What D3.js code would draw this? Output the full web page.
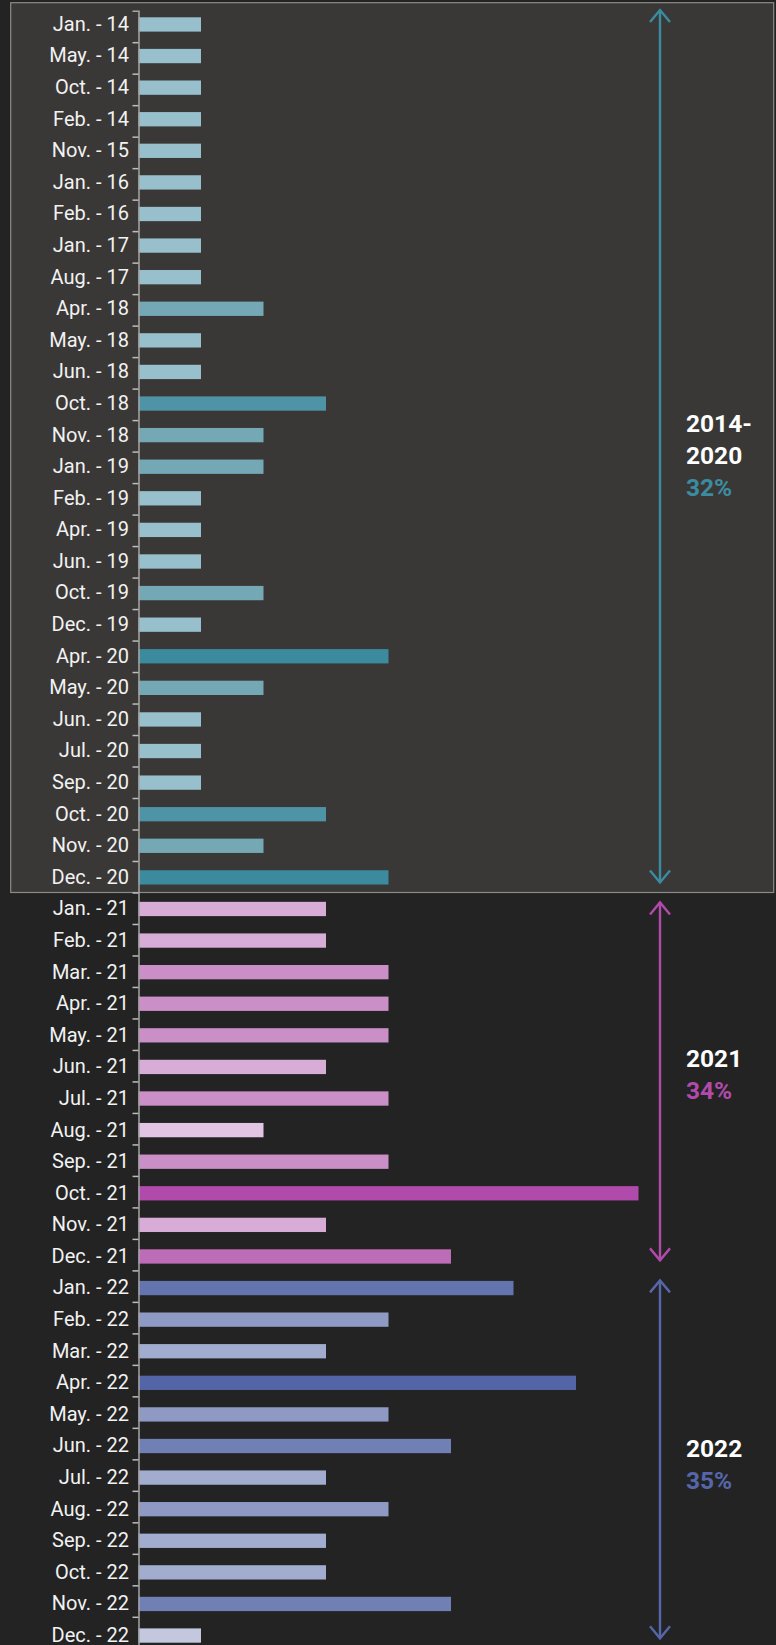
<!DOCTYPE html>
<html>
<head>
<meta charset="utf-8">
<script src="https://cdn.jsdelivr.net/npm/d3@7"></script>
<style>
  body { margin: 0; background: #232323; }
  svg { display: block; }
  .label { font-family: Roboto, "Noto Sans", sans-serif; font-size: 20px; fill: #f2f2f2; }
  .title { font-family: Roboto, "Noto Sans", sans-serif; font-size: 24.5px; font-weight: 700; }
</style>
</head>
<body>
<section></section>
<script>
// months shown on the axis, one bar each
var periods = [
  "Jan. - 14", "May. - 14", "Oct. - 14", "Feb. - 14", "Nov. - 15", "Jan. - 16", "Feb. - 16",
  "Jan. - 17", "Aug. - 17", "Apr. - 18", "May. - 18", "Jun. - 18", "Oct. - 18", "Nov. - 18",
  "Jan. - 19", "Feb. - 19", "Apr. - 19", "Jun. - 19", "Oct. - 19", "Dec. - 19", "Apr. - 20",
  "May. - 20", "Jun. - 20", "Jul. - 20", "Sep. - 20", "Oct. - 20", "Nov. - 20", "Dec. - 20",
  "Jan. - 21", "Feb. - 21", "Mar. - 21", "Apr. - 21", "May. - 21", "Jun. - 21",
  "Jul. - 21", "Aug. - 21", "Sep. - 21", "Oct. - 21", "Nov. - 21", "Dec. - 21",
  "Jan. - 22", "Feb. - 22", "Mar. - 22", "Apr. - 22", "May. - 22", "Jun. - 22",
  "Jul. - 22", "Aug. - 22", "Sep. - 22", "Oct. - 22", "Nov. - 22", "Dec. - 22"
];
var counts = [
  1, 1, 1, 1, 1, 1, 1, 1, 1, 2, 1, 1, 3, 2, 2, 1, 1, 1, 2, 1, 4, 2, 1, 1, 1, 3, 2, 4,
  3, 3, 4, 4, 4, 3, 4, 2, 4, 8, 3, 5,
  6, 4, 3, 7, 4, 5, 3, 4, 3, 3, 5, 1
];
// the three periods and how many months each covers
var groupTitles = [["2014-", "2020"], ["2021"], ["2022"]];
var groupShares = ["32%", "34%", "35%"];
var groupSizes = [28, 12, 12];

var width = 776, height = 1645;
var groupColor = ["#3b8ca0", "#b04aab", "#5566aa"];
var shades = [
  d3.scaleLinear().domain([1, 2, 3, 4]).range(["#97c0cc", "#74a8b5", "#4e93a6", "#3b8a9e"]),
  d3.scaleLinear().domain([2, 3, 4, 5, 8]).range(["#e2c5e2", "#d7acd6", "#cb8fc8", "#bd6cb8", "#b04aab"]),
  d3.scaleLinear().domain([1, 3, 4, 5, 6, 7]).range(["#c3c8de", "#a2acce", "#8e99c4", "#7080b5", "#6474ae", "#5465a7"])
];

// group index of every bar
var groupOf = [];
groupSizes.forEach(function(n, g) { for (var i = 0; i < n; i++) groupOf.push(g); });
var starts = [0, groupSizes[0], groupSizes[0] + groupSizes[1], periods.length];

var svg = d3.select("section").append("svg")
  .attr("width", width)
  .attr("height", height);

var x = d3.scaleLinear().domain([0, 8]).range([138.5, 638.5]);

// bars
var y = d3.scaleBand()
  .domain(periods)
  .range([8.66, 8.66 + periods.length * 31.59])
  .paddingInner(0.547)
  .paddingOuter(0.2735);

// ticks sit between the months
var yTick = d3.scaleLinear().domain([0, periods.length]).range([10.7, 1648.3]);

// highlighted box behind 2014-2020
svg.append("rect")
  .attr("x", 10.7)
  .attr("y", yTick(0) - 8)
  .attr("width", 763)
  .attr("height", yTick(starts[1]) - yTick(0) + 8)
  .attr("fill", "#3a3836")
  .attr("stroke", "#8c8b87")
  .attr("stroke-width", 1.2);

svg.selectAll(".bar")
  .data(periods)
  .enter().append("rect")
  .attr("class", "bar")
  .attr("x", x(0))
  .attr("y", function(d) { return y(d); })
  .attr("height", y.bandwidth())
  .attr("width", function(d, i) { return x(counts[i]) - x(0); })
  .attr("fill", function(d, i) { return shades[groupOf[i]](counts[i]); });

// axis
var axis = svg.append("g")
  .attr("transform", "translate(" + x(0) + ",0)")
  .call(d3.axisLeft(yTick).tickValues(d3.range(1, periods.length)).tickSize(6).tickFormat(""));
axis.select(".domain").attr("stroke", "#a5a5a5").attr("stroke-width", 1.5);
axis.selectAll(".tick line").attr("stroke", "#bdbdbd").attr("stroke-width", 1.5);

svg.selectAll(".label")
  .data(periods)
  .enter().append("text")
  .attr("class", "label")
  .attr("x", 129)
  .attr("y", function(d) { return y(d) + y.bandwidth() / 2; })
  .attr("dy", "0.32em")
  .style("text-anchor", "end")
  .text(function(d) { return d; });

// arrows and period titles
var ax = 660;
var titleShift = [4, -7, 5];
groupTitles.forEach(function(lines, g) {
  var top = g === 0 ? 10 : yTick(starts[g]) + 10;
  var bottom = yTick(starts[g + 1]) - 10;
  var a = svg.append("g")
    .attr("fill", "none")
    .attr("stroke", groupColor[g])
    .attr("stroke-width", 2.4);
  a.append("line").attr("x1", ax).attr("x2", ax).attr("y1", top).attr("y2", bottom);
  a.append("path").attr("d", "M" + (ax - 10) + "," + (top + 12) + "L" + ax + "," + top + "L" + (ax + 10) + "," + (top + 12));
  a.append("path").attr("d", "M" + (ax - 10) + "," + (bottom - 12) + "L" + ax + "," + bottom + "L" + (ax + 10) + "," + (bottom - 12));

  var all = lines.concat([groupShares[g]]);
  var lh = 32;
  var mid = (yTick(starts[g]) + yTick(starts[g + 1])) / 2 + titleShift[g];
  var first = mid - (all.length * lh) / 2 + lh / 2 + 8.5;
  svg.selectAll(".t" + g)
    .data(all)
    .enter().append("text")
    .attr("class", "title")
    .attr("x", 686)
    .attr("y", function(d, i) { return first + i * lh; })
    .attr("fill", function(d, i) { return i === all.length - 1 ? groupColor[g] : "#ffffff"; })
    .text(function(d) { return d; });
});
</script>
</body>
</html>
